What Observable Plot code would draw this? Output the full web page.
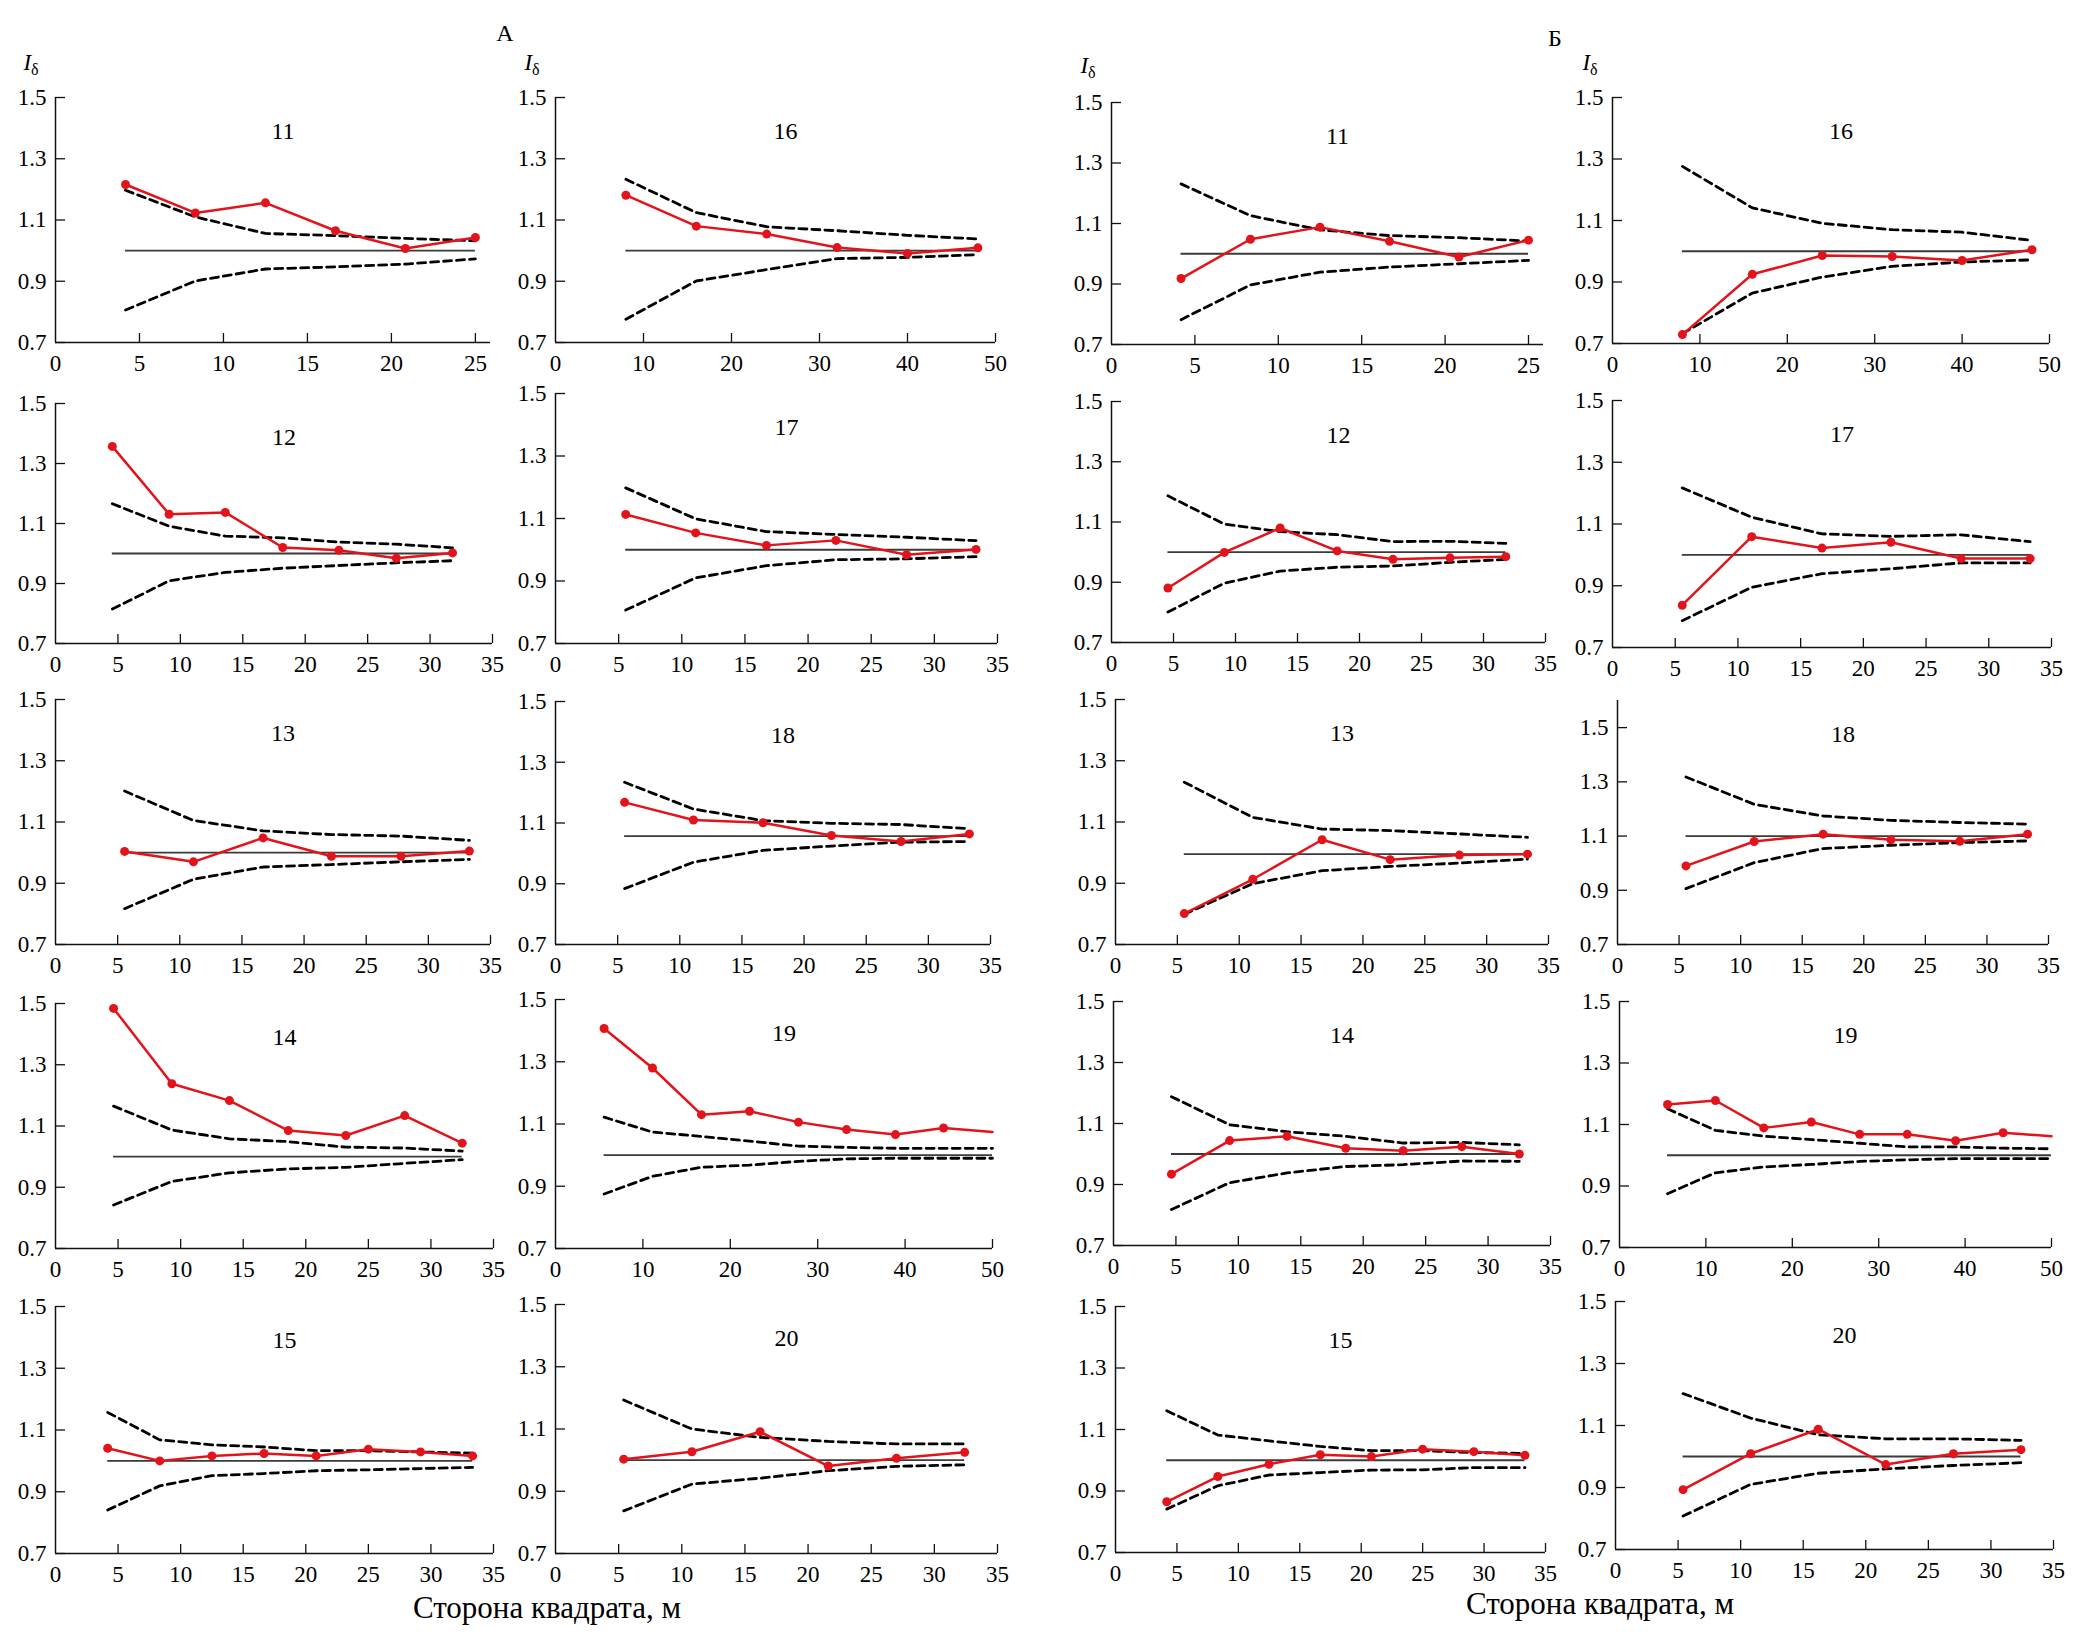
<!DOCTYPE html>
<html>
<head>
<meta charset="utf-8">
<script src="https://cdn.jsdelivr.net/npm/d3@7"></script>
<script src="https://cdn.jsdelivr.net/npm/@observablehq/plot@0.6"></script>
<style>
  html, body { margin: 0; padding: 0; background: #fff; }
  #fig { position: relative; width: 2079px; height: 1642px; font-family: "Liberation Serif", "Times New Roman", serif; color: #000; overflow: hidden; }
  #fig svg { font-family: "Liberation Serif", "Times New Roman", serif !important; }
  .lab { position: absolute; white-space: nowrap; transform: translate(-50%, -50%); line-height: 1; }
  .ilab { font-size: 23px; }
  .ilab i { font-style: italic; }
  .ilab sub { font-size: 16px; vertical-align: -5px; }
</style>
</head>
<body>
<div id="fig"></div>
<script>
// ---------- tick labels ----------
const ticks25 = [0, 5, 10, 15, 20, 25];
const ticks35 = [0, 5, 10, 15, 20, 25, 30, 35];
const ticks50 = [0, 10, 20, 30, 40, 50];
const yTicks = [0.7, 0.9, 1.1, 1.3, 1.5];

// ---------- x positions (square side, m) ----------
const xP11 = [4.17, 8.33, 12.5, 16.67, 20.83, 25];
const xP16 = [8, 16, 24, 32, 40, 48];
const xP12 = [4.55, 9.1, 13.6, 18.2, 22.7, 27.3, 31.8];
const xP17 = [5.56, 11.1, 16.7, 22.2, 27.8, 33.3];
const xP13 = [5.56, 11.1, 16.7, 22.2, 27.8, 33.3];
const xP18 = [5.56, 11.1, 16.7, 22.2, 27.8, 33.3];
const xP14 = [4.64, 9.3, 13.9, 18.6, 23.2, 27.9, 32.5];
const xP19 = [5.56, 11.1, 16.7, 22.2, 27.8, 33.3, 38.9, 44.4, 50];
const xP15 = [4.17, 8.33, 12.5, 16.67, 20.83, 25, 29.17, 33.33];
const xP20 = [5.4, 10.8, 16.2, 21.6, 27, 32.4];

// ---------- А: observed (red), upper and lower bounds (dashed) ----------
const redA11 = [1.216, 1.123, 1.156, 1.065, 1.007, 1.043];
const upA11  = [1.197, 1.110, 1.056, 1.049, 1.040, 1.032];
const loA11  = [0.806, 0.901, 0.940, 0.947, 0.956, 0.973];
const redA16 = [1.181, 1.080, 1.054, 1.010, 0.991, 1.009];
const upA16  = [1.233, 1.124, 1.078, 1.065, 1.050, 1.038];
const loA16  = [0.776, 0.901, 0.938, 0.974, 0.978, 0.987];
const redA12 = [1.357, 1.131, 1.137, 1.020, 1.011, 0.984, 1.002];
const upA12  = [1.166, 1.091, 1.058, 1.052, 1.038, 1.031, 1.019];
const loA12  = [0.815, 0.909, 0.937, 0.951, 0.960, 0.969, 0.976];
const redA17 = [1.113, 1.054, 1.014, 1.030, 0.984, 1.001];
const upA17  = [1.198, 1.099, 1.058, 1.049, 1.040, 1.029];
const loA17  = [0.807, 0.910, 0.949, 0.968, 0.971, 0.978];
const redA13 = [1.004, 0.970, 1.048, 0.988, 0.988, 1.005];
const upA13  = [1.201, 1.105, 1.071, 1.059, 1.054, 1.040];
const loA13  = [0.817, 0.913, 0.953, 0.961, 0.970, 0.978];
const redA18 = [1.168, 1.110, 1.101, 1.059, 1.039, 1.064];
const upA18  = [1.234, 1.146, 1.108, 1.099, 1.095, 1.081];
const loA18  = [0.884, 0.971, 1.010, 1.024, 1.037, 1.039];
const redA14 = [1.484, 1.238, 1.183, 1.085, 1.069, 1.134, 1.044];
const upA14  = [1.165, 1.087, 1.058, 1.049, 1.031, 1.028, 1.018];
const loA14  = [0.842, 0.919, 0.947, 0.960, 0.965, 0.978, 0.990];
const redA19 = [1.407, 1.280, 1.130, 1.141, 1.106, 1.082, 1.066, 1.087, 1.074];
const upA19  = [1.122, 1.074, 1.060, 1.045, 1.029, 1.025, 1.022, 1.022, 1.022];
const loA19  = [0.875, 0.932, 0.961, 0.968, 0.980, 0.988, 0.990, 0.990, 0.990];
const redA15 = [1.041, 1.000, 1.016, 1.024, 1.016, 1.038, 1.029, 1.016];
const upA15  = [1.157, 1.068, 1.052, 1.045, 1.033, 1.033, 1.029, 1.025];
const loA15  = [0.841, 0.919, 0.952, 0.959, 0.968, 0.971, 0.975, 0.979];
const redA20 = [1.003, 1.027, 1.091, 0.981, 1.006, 1.025];
const upA20  = [1.193, 1.100, 1.073, 1.060, 1.052, 1.052];
const loA20  = [0.837, 0.923, 0.942, 0.966, 0.980, 0.985];

// ---------- Б ----------
const redB11 = [0.918, 1.048, 1.088, 1.041, 0.989, 1.045];
const upB11  = [1.231, 1.126, 1.079, 1.060, 1.053, 1.042];
const loB11  = [0.782, 0.897, 0.939, 0.956, 0.967, 0.978];
const redB16 = [0.729, 0.925, 0.986, 0.983, 0.970, 1.005];
const upB16  = [1.276, 1.141, 1.091, 1.070, 1.062, 1.035];
const loB16  = [0.732, 0.864, 0.916, 0.951, 0.965, 0.972];
const redB12 = [0.881, 0.999, 1.080, 1.004, 0.976, 0.981, 0.985];
const upB12  = [1.187, 1.093, 1.068, 1.058, 1.035, 1.036, 1.029];
const loB12  = [0.801, 0.897, 0.937, 0.950, 0.954, 0.966, 0.976];
const redB17 = [0.837, 1.059, 1.022, 1.041, 0.988, 0.988];
const upB17  = [1.217, 1.122, 1.068, 1.060, 1.065, 1.043];
const loB17  = [0.787, 0.895, 0.939, 0.955, 0.974, 0.974];
const redB13 = [0.801, 0.913, 1.042, 0.977, 0.992, 0.995];
const upB13  = [1.230, 1.115, 1.077, 1.072, 1.061, 1.050];
const loB13  = [0.799, 0.899, 0.941, 0.955, 0.966, 0.979];
const redB18 = [0.990, 1.080, 1.107, 1.086, 1.081, 1.107];
const upB18  = [1.318, 1.217, 1.174, 1.158, 1.150, 1.144];
const loB18  = [0.906, 1.002, 1.054, 1.066, 1.076, 1.082];
const redB14 = [0.934, 1.044, 1.058, 1.019, 1.011, 1.024, 1.000];
const upB14  = [1.188, 1.096, 1.073, 1.058, 1.036, 1.038, 1.030];
const loB14  = [0.818, 0.906, 0.938, 0.959, 0.965, 0.977, 0.976];
const redB19 = [1.165, 1.178, 1.089, 1.108, 1.068, 1.068, 1.047, 1.073, 1.062];
const upB19  = [1.151, 1.081, 1.062, 1.051, 1.039, 1.027, 1.027, 1.023, 1.021];
const loB19  = [0.875, 0.943, 0.962, 0.970, 0.980, 0.985, 0.989, 0.989, 0.989];
const redB15 = [0.865, 0.947, 0.987, 1.018, 1.012, 1.036, 1.028, 1.016];
const upB15  = [1.161, 1.082, 1.063, 1.045, 1.031, 1.031, 1.025, 1.022];
const loB15  = [0.841, 0.917, 0.952, 0.960, 0.968, 0.969, 0.976, 0.976];
const redB20 = [0.893, 1.009, 1.088, 0.974, 1.009, 1.022];
const upB20  = [1.203, 1.124, 1.070, 1.057, 1.057, 1.052];
const loB20  = [0.808, 0.910, 0.946, 0.960, 0.971, 0.980];

// reference (expected) levels
const refA = {"11":1.0,"12":1.0,"13":1.0,"14":1.0,"15":1.0,"16":1.0,"17":1.0,"18":1.057,"19":1.0,"20":1.0};
const refB = {"11":1.0,"12":1.0,"13":0.995,"14":1.0,"15":1.0,"16":1.0,"17":1.0,"18":1.1,"19":1.0,"20":1.0};

// ---------- layout (pixel frame of each panel: x of 0, x of axis end, y of axis top, y of 0.7) ----------
const layout = {
  "А11": [55, 490, 97, 342],   "А16": [555, 995, 97, 342],
  "Б11": [1111, 1543, 102, 344], "Б16": [1612, 2049, 97, 343],
  "А12": [55, 492, 403, 643],  "А17": [555, 997, 393, 643],
  "Б12": [1111, 1545, 401, 642], "Б17": [1612, 2051, 400, 647],
  "А13": [55, 490, 699, 944],  "А18": [555, 990, 701, 944],
  "Б13": [1115, 1548, 699, 944], "Б18": [1617, 2048, 700, 944],
  "А14": [55, 493, 1003, 1248], "А19": [555, 992, 999, 1248],
  "Б14": [1113, 1550, 1001, 1245], "Б19": [1619, 2051, 1001, 1247],
  "А15": [55, 493, 1306, 1553], "А20": [555, 997, 1304, 1553],
  "Б15": [1115, 1545, 1306, 1552], "Б20": [1615, 2053, 1301, 1549]
};

const xInfo = {
  "11": [xP11, 25.9, ticks25], "16": [xP16, 50, ticks50],
  "12": [xP12, 35, ticks35],   "17": [xP17, 35, ticks35],
  "13": [xP13, 35, ticks35],   "18": [xP18, 35, ticks35],
  "14": [xP14, 35, ticks35],   "19": [xP19, 50, ticks50],
  "15": [xP15, 35, ticks35],   "20": [xP20, 35, ticks35]
};
const seriesA = {"11":[redA11,upA11,loA11],"16":[redA16,upA16,loA16],"12":[redA12,upA12,loA12],"17":[redA17,upA17,loA17],"13":[redA13,upA13,loA13],"18":[redA18,upA18,loA18],"14":[redA14,upA14,loA14],"19":[redA19,upA19,loA19],"15":[redA15,upA15,loA15],"20":[redA20,upA20,loA20]};
const seriesB = {"11":[redB11,upB11,loB11],"16":[redB16,upB16,loB16],"12":[redB12,upB12,loB12],"17":[redB17,upB17,loB17],"13":[redB13,upB13,loB13],"18":[redB18,upB18,loB18],"14":[redB14,upB14,loB14],"19":[redB19,upB19,loB19],"15":[redB15,upB15,loB15],"20":[redB20,upB20,loB20]};
const yTopB18 = 1.6;
const openEnd = new Set(["19"]);

const RED = "#e3131b";
const FONT = "'Liberation Serif', 'Times New Roman', serif";
const fig = document.getElementById("fig");

function drawPanel(group, name) {
  const id = group + name;
  const [x0, x1, yT, yB] = layout[id];
  const [xs, xEnd, xt] = xInfo[name];
  const [red, up, lo] = (group === "А" ? seriesA : seriesB)[name];
  const ref = (group === "А" ? refA : refB)[name];
  const yMax = (group === "Б" && name === "18") ? yTopB18 : 1.5;
  const ml = 70, mr = 20, mt = 20, mb = 45;
  const w = x1 - x0, h = yB - yT;
  const tickLenY = 9 * (yMax - 0.7) / h;
  const tickLenX = 10 * xEnd / w;
  const rows = xs.map((x, i) => ({x, red: red[i], up: up[i], lo: lo[i]}));
  const dots = openEnd.has(name) ? rows.slice(0, -1) : rows;
  const svg = Plot.plot({
    width: w + ml + mr, height: h + mt + mb,
    marginLeft: ml, marginRight: mr, marginTop: mt, marginBottom: mb,
    x: {domain: [0, xEnd]},
    y: {domain: [0.7, yMax]},
    style: `font-family: ${FONT}; font-size: 23px; color: #000; background: transparent; overflow: visible;`,
    marks: [
      Plot.ruleY([0.7], {x1: 0, x2: xEnd, stroke: "#111", strokeWidth: 1.7}),
      Plot.ruleX([0], {y1: 0.7, y2: yMax, stroke: "#111", strokeWidth: 1.5}),
      Plot.ruleX(xt.filter(t => t > 0), {x: d => d, y1: 0.7, y2: 0.7 + tickLenY, stroke: "#111", strokeWidth: 1.3}),
      Plot.ruleY(yTicks, {y: d => d, x1: 0, x2: tickLenX, stroke: "#111", strokeWidth: 1.3}),
      Plot.axisX(xt, {anchor: "bottom", tickSize: 0, tickPadding: 12, label: null, fontSize: 23, fontFamily: FONT, tickFormat: d => String(d)}),
      Plot.axisY(yTicks, {anchor: "left", tickSize: 0, tickPadding: 9, label: null, fontSize: 23, fontFamily: FONT, tickFormat: d3.format(".1f")}),
      Plot.ruleY([ref], {x1: xs[0], x2: xs[xs.length - 1], stroke: "#3a3a3a", strokeWidth: 1.8}),
      Plot.line(rows, {x: "x", y: "up", stroke: "#000", strokeWidth: 2.8, strokeDasharray: "8,5"}),
      Plot.line(rows, {x: "x", y: "lo", stroke: "#000", strokeWidth: 2.8, strokeDasharray: "8,5"}),
      Plot.line(rows, {x: "x", y: "red", stroke: RED, strokeWidth: 2.5}),
      Plot.dot(dots, {x: "x", y: "red", r: 4.5, fill: RED, stroke: "none"}),
      Plot.text([name], {text: d => d, frameAnchor: "top", dy: 24, dx: 10, fontSize: 24, fontFamily: FONT})
    ]
  });
  svg.style.position = "absolute";
  svg.style.left = (x0 - ml) + "px";
  svg.style.top = (yT - mt) + "px";
  fig.appendChild(svg);
}

const colNames = [["11","12","13","14","15"], ["16","17","18","19","20"]];
for (const g of ["А", "Б"]) for (const col of colNames) for (const n of col) drawPanel(g, n);

function label(html, x, y, cls, size) {
  const d = document.createElement("div");
  d.className = "lab " + (cls || "");
  d.style.left = x + "px"; d.style.top = y + "px";
  if (size) d.style.fontSize = size + "px";
  d.innerHTML = html;
  fig.appendChild(d);
}
label("А", 505, 33, "", 24);
label("Б", 1555, 38, "", 24);
const iLab = "<i>I</i><sub>δ</sub>";
label(iLab, 31, 64, "ilab");
label(iLab, 532, 64, "ilab");
label(iLab, 1088, 67, "ilab");
label(iLab, 1590, 64, "ilab");
label("Сторона квадрата, м", 547, 1607, "", 31);
label("Сторона квадрата, м", 1600, 1603, "", 31);
</script>
</body>
</html>
